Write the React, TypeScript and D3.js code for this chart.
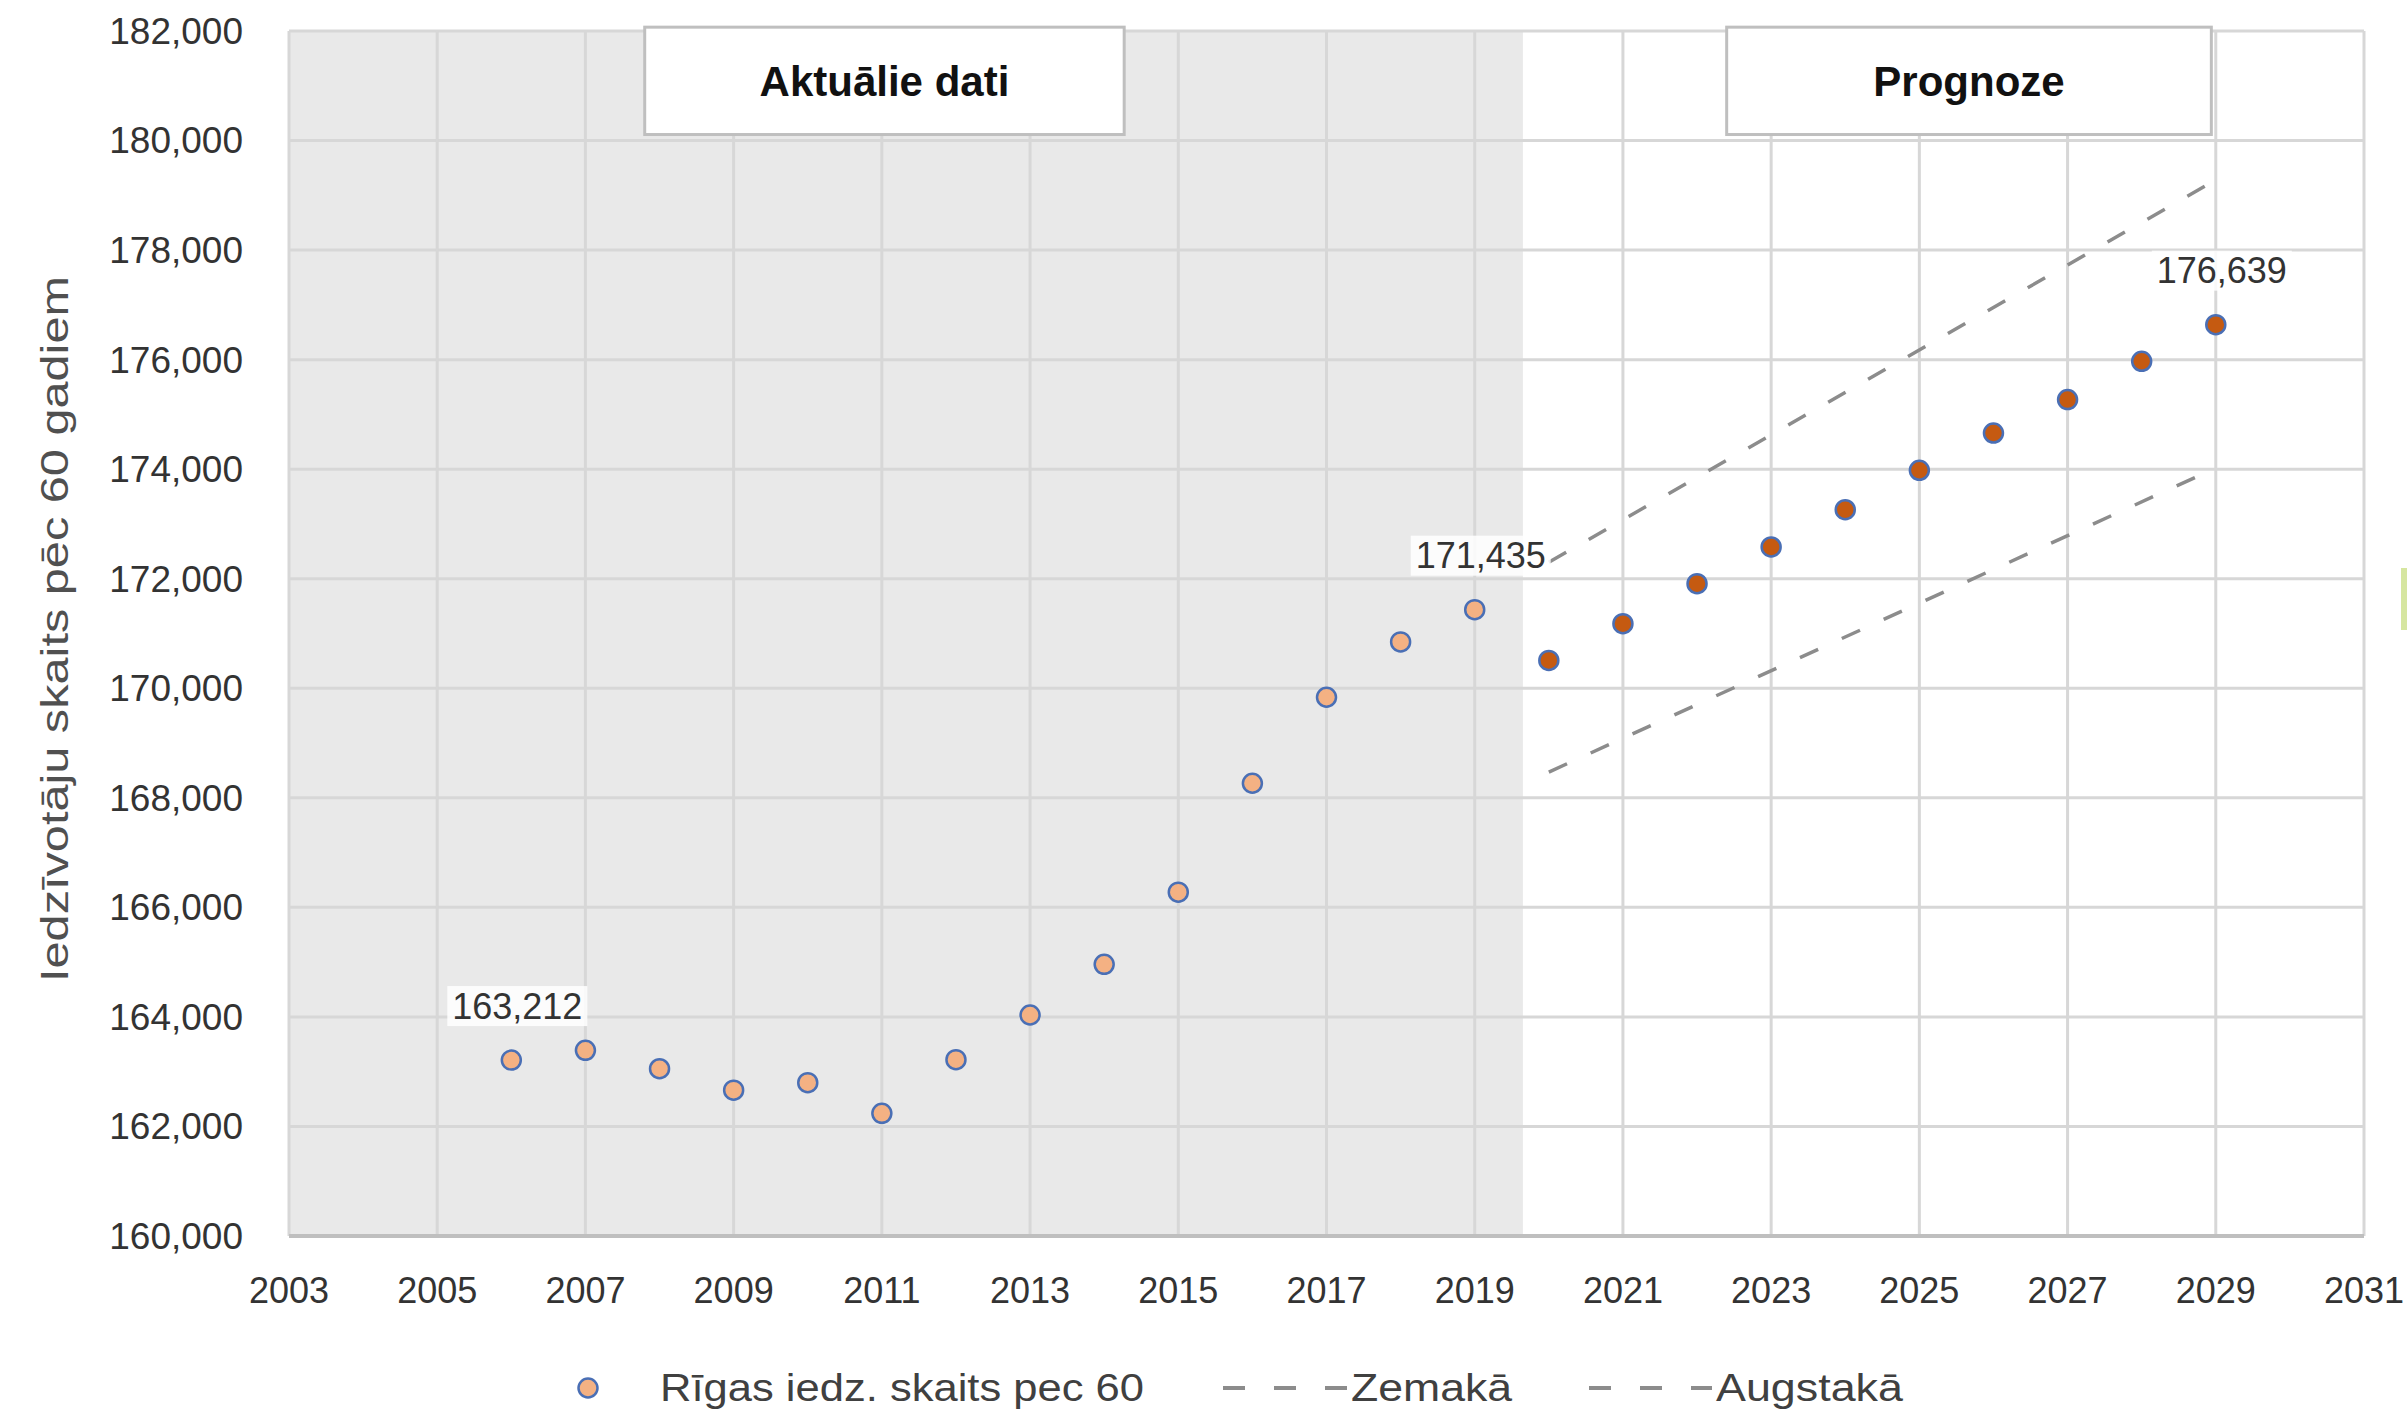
import React from 'react';
import * as d3 from 'd3';

const actualYears = [2006, 2007, 2008, 2009, 2010, 2011, 2012, 2013, 2014, 2015, 2016, 2017, 2018, 2019];
const actualValues = [163212, 163390, 163054, 162662, 162800, 162240, 163220, 164035, 164960, 166277, 168266, 169836, 170846, 171435];

const forecastYears = [2020, 2021, 2022, 2023, 2024, 2025, 2026, 2027, 2028, 2029];
const forecastValues = [170508, 171180, 171910, 172580, 173260, 173980, 174660, 175270, 175970, 176639];

const lowYears = [2020, 2029];
const lowValues = [168470, 174020];
const highYears = [2020, 2029];
const highValues = [172300, 179280];

const labelledPoints = [
  { year: 2006, value: 163212 },
  { year: 2019, value: 171435 },
  { year: 2029, value: 176639 },
];

const yTicks = [160000, 162000, 164000, 166000, 168000, 170000, 172000, 174000, 176000, 178000, 180000, 182000];
const xTicks = [2003, 2005, 2007, 2009, 2011, 2013, 2015, 2017, 2019, 2021, 2023, 2025, 2027, 2029, 2031];

const shadeEnd = 2019.65;
const boxes = [
  { text: 'Aktuālie dati', from: 2007.8, to: 2014.27 },
  { text: 'Prognoze', from: 2022.4, to: 2028.94 },
];

const legendItems = ['Rīgas iedz. skaits pec 60', 'Zemakā', 'Augstakā'];
const yTitle = 'Iedzīvotāju skaits pēc 60 gadiem';

const W = 2407;
const H = 1414;
const font = 'Liberation Sans, Arial, sans-serif';

export default function App() {
  const x = d3.scaleLinear().domain([2003, 2031]).range([289, 2364]);
  const y = d3.scaleLinear().domain([160000, 182000]).range([1236, 31]);
  const fmt = d3.format(',');
  const line = d3.line<[number, number]>().x(d => x(d[0])).y(d => y(d[1]));

  const low: [number, number][] = lowYears.map((yr, i) => [yr, lowValues[i]]);
  const high: [number, number][] = highYears.map((yr, i) => [yr, highValues[i]]);

  const legendY = 1388;

  return (
    <div style={{ position: 'absolute', left: 0, top: 0 }}>
      <svg width={W} height={H} style={{ display: 'block', fontFamily: font }}>
        <rect x={0} y={0} width={W} height={H} fill="#ffffff" />
        {/* shaded actual-data region */}
        <rect x={x(2003)} y={y(182000)} width={x(shadeEnd) - x(2003)} height={y(160000) - y(182000)} fill="#e9e9e9" />

        {/* grid */}
        {yTicks.map(t => (
          <line key={'h' + t} x1={x(2003)} x2={x(2031)} y1={y(t)} y2={y(t)} stroke="#d7d7d7" strokeWidth={3} />
        ))}
        {xTicks.map(t => (
          <line key={'v' + t} x1={x(t)} x2={x(t)} y1={y(182000)} y2={y(160000)} stroke="#d7d7d7" strokeWidth={3} />
        ))}
        <line x1={x(2003)} x2={x(2031)} y1={y(160000)} y2={y(160000)} stroke="#bfbfbf" strokeWidth={4} />

        {/* y tick labels */}
        {yTicks.map(t => (
          <text key={'yl' + t} x={243} y={y(t)} dy="0.35em" textAnchor="end" fontSize={37} fill="#333333">
            {fmt(t)}
          </text>
        ))}
        {/* x tick labels */}
        {xTicks.map(t => (
          <text key={'xl' + t} x={x(t)} y={1290} dy="0.35em" textAnchor="middle" fontSize={36} fill="#333333">
            {t}
          </text>
        ))}

        {/* y title */}
        <text
          transform={`translate(55, ${(276 + 982) / 2}) rotate(-90)`}
          textAnchor="middle"
          dy="0.35em"
          fontSize={38}
          fill="#505050"
          textLength={706}
          lengthAdjust="spacingAndGlyphs"
        >
          {yTitle}
        </text>

        {/* boxes */}
        {boxes.map(b => (
          <g key={b.text}>
            <rect x={x(b.from)} y={y(182070)} width={x(b.to) - x(b.from)} height={y(180110) - y(182070)} fill="#ffffff" stroke="#bfbfbf" strokeWidth={3} />
            <text x={(x(b.from) + x(b.to)) / 2} y={(y(182070) + y(180110)) / 2} dy="0.35em" textAnchor="middle" fontSize={42} fontWeight="bold" fill="#111111">
              {b.text}
            </text>
          </g>
        ))}

        {/* dashed bounds */}
        <path d={line(low) || ''} fill="none" stroke="#8c8c8c" strokeWidth={3.5} strokeDasharray="20 26" />
        <path d={line(high) || ''} fill="none" stroke="#8c8c8c" strokeWidth={3.5} strokeDasharray="20 26" />

        {/* points */}
        {actualYears.map((yr, i) => (
          <circle key={'a' + yr} cx={x(yr)} cy={y(actualValues[i])} r={9.5} fill="#f4b183" stroke="#4a6fb5" strokeWidth={2.5} />
        ))}
        {forecastYears.map((yr, i) => (
          <circle key={'f' + yr} cx={x(yr)} cy={y(forecastValues[i])} r={9.5} fill="#c55a11" stroke="#4a6fb5" strokeWidth={2.5} />
        ))}

        {/* data labels */}
        {labelledPoints.map(p => (
          <g key={'lbl' + p.year}>
            <rect x={x(p.year) + 6 - 70} y={y(p.value) - 54 - 20} width={140} height={40} fill="#ffffff" opacity={0.85} />
            <text x={x(p.year) + 6} y={y(p.value) - 54} dy="0.35em" textAnchor="middle" fontSize={36} fill="#333333">
              {fmt(p.value)}
            </text>
          </g>
        ))}

        {/* right-edge fragment */}
        <rect x={2401} y={568} width={6} height={62} fill="#d6e6a0" />

        {/* legend */}
        <circle cx={588} cy={legendY} r={9.5} fill="#f4b183" stroke="#4a6fb5" strokeWidth={2.5} />
        <text x={660} y={legendY} dy="0.35em" fontSize={38} fill="#404040" textLength={484} lengthAdjust="spacingAndGlyphs">
          {legendItems[0]}
        </text>
        <line x1={1223} x2={1348} y1={legendY} y2={legendY} stroke="#8c8c8c" strokeWidth={4} strokeDasharray="22 29" />
        <text x={1351} y={legendY} dy="0.35em" fontSize={38} fill="#404040" textLength={161} lengthAdjust="spacingAndGlyphs">
          {legendItems[1]}
        </text>
        <line x1={1589} x2={1712} y1={legendY} y2={legendY} stroke="#8c8c8c" strokeWidth={4} strokeDasharray="22 29" />
        <text x={1716} y={legendY} dy="0.35em" fontSize={38} fill="#404040" textLength={187} lengthAdjust="spacingAndGlyphs">
          {legendItems[2]}
        </text>
      </svg>
    </div>
  );
}
